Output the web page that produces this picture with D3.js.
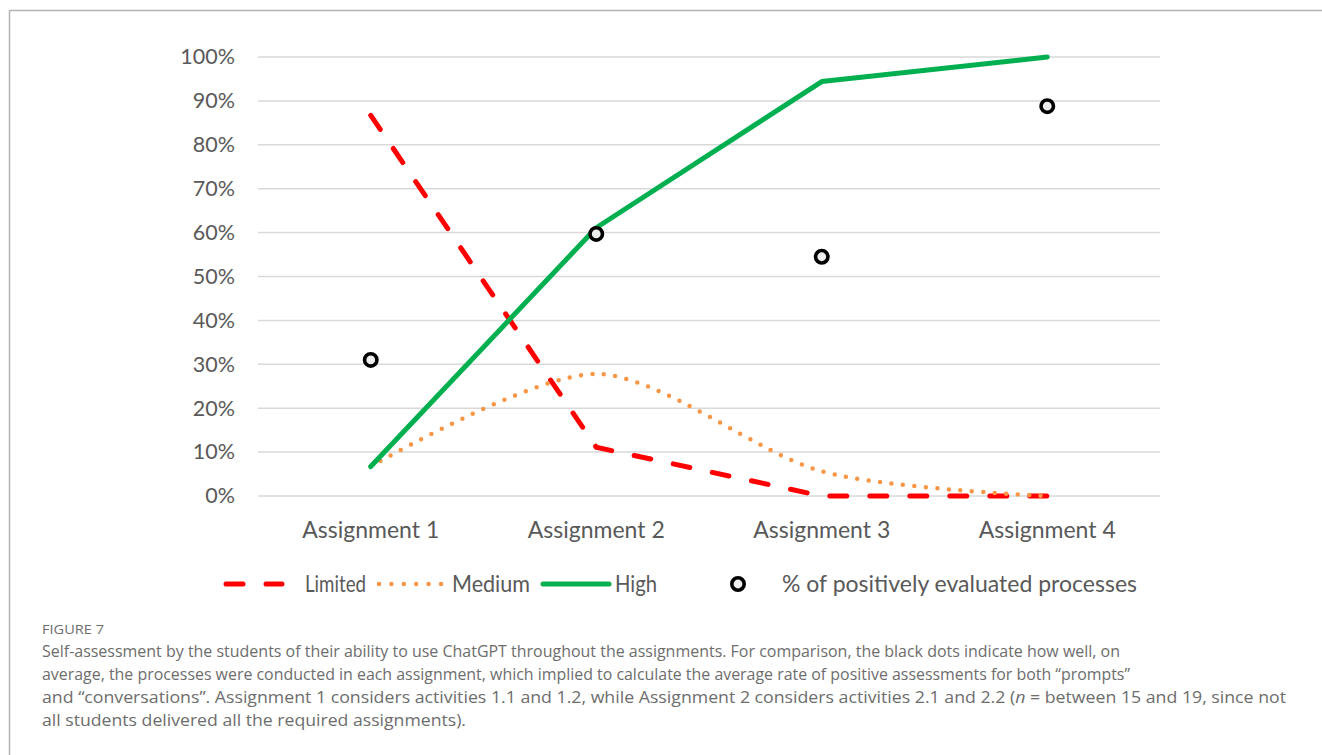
<!DOCTYPE html>
<html>
<head>
<meta charset="utf-8">
<script src="https://cdn.jsdelivr.net/npm/d3@7"></script>
<style>
  body { margin: 0; background: #fff; }
  svg { display: block; }
</style>
</head>
<body>
<div id="chart"></div>
<script>
/**
 * Chart data
 */
var categories = ["Assignment 1", "Assignment 2", "Assignment 3", "Assignment 4"];
var limited = [0.867, 0.111, 0, 0];
var medium = [0.067, 0.278, 0.056, 0];
var high = [0.067, 0.611, 0.944, 1.0];
var positive = [0.31, 0.597, 0.545, 0.888];
var yTicks = [0, 0.1, 0.2, 0.3, 0.4, 0.5, 0.6, 0.7, 0.8, 0.9, 1.0];
var legendLabels = ["Limited", "Medium", "High", "% of positively evaluated processes"];

var captionTitle = "FIGURE 7";
var captionLines = [
  "Self-assessment by the students of their ability to use ChatGPT throughout the assignments. For comparison, the black dots indicate how well, on",
  "average, the processes were conducted in each assignment, which implied to calculate the average rate of positive assessments for both \u201cprompts\u201d",
  "and \u201cconversations\u201d. Assignment 1 considers activities 1.1 and 1.2, while Assignment 2 considers activities 2.1 and 2.2 (",
  "all students delivered all the required assignments)."
];

var width = 1322;
var height = 755;
var font = "Lato, 'Open Sans', sans-serif";

var svg = d3.select("#chart").append("svg")
  .attr("width", width)
  .attr("height", height);

// outer frame (left + top only)
svg.append("path")
  .attr("d", "M9.5," + height + "V10.5H" + width)
  .attr("fill", "none")
  .attr("stroke", "#b3b3b3")
  .attr("stroke-width", 1.5);

var x = d3.scaleBand().domain(categories).range([258, 1160]);
var y = d3.scaleLinear().domain([0, 1]).range([496, 57]);
var cx = function(i) { return x(categories[i]) + x.bandwidth() / 2; };

// gridlines
svg.append("g")
  .selectAll("line")
  .data(yTicks)
  .enter().append("line")
  .attr("x1", 258).attr("x2", 1160)
  .attr("y1", d => y(d)).attr("y2", d => y(d))
  .attr("stroke", "#d9d9d9")
  .attr("stroke-width", 1.5);

// y axis labels
var yAxis = svg.append("g")
  .attr("transform", "translate(235,0)")
  .call(d3.axisLeft(y).tickValues(yTicks).tickFormat(d3.format(".0%")).tickSize(0).tickPadding(0));
yAxis.select(".domain").remove();
yAxis.selectAll("text")
  .attr("font-family", font)
  .attr("font-size", 21.5)
  .attr("fill", "#595959");

// x axis labels
var xAxis = svg.append("g")
  .attr("transform", "translate(0,538)")
  .call(d3.axisBottom(x).tickSize(0).tickPadding(0));
xAxis.select(".domain").remove();
xAxis.selectAll("text")
  .attr("y", 0)
  .attr("dy", 0)
  .attr("font-family", font)
  .attr("font-size", 23)
  .attr("fill", "#595959");

// lines
var straight = d3.line().x((d, i) => cx(i)).y(d => y(d));
var smooth = d3.line().x((d, i) => cx(i)).y(d => y(d)).curve(d3.curveCardinal.tension(0.15));

svg.append("path")
  .attr("d", straight(limited))
  .attr("fill", "none")
  .attr("stroke", "#ff0000")
  .attr("stroke-width", 5)
  .attr("stroke-linecap", "round")
  .attr("stroke-dasharray", "17 23");

svg.append("path")
  .attr("d", smooth(medium))
  .attr("fill", "none")
  .attr("stroke", "#f79646")
  .attr("stroke-width", 4.5)
  .attr("stroke-linecap", "round")
  .attr("stroke-dasharray", "0 11.5");

svg.append("path")
  .attr("d", straight(high))
  .attr("fill", "none")
  .attr("stroke", "#00b050")
  .attr("stroke-width", 5)
  .attr("stroke-linecap", "round")
  .attr("stroke-linejoin", "round");

svg.append("g")
  .selectAll("circle")
  .data(positive)
  .enter().append("circle")
  .attr("cx", (d, i) => cx(i))
  .attr("cy", d => y(d))
  .attr("r", 6.2)
  .attr("fill", "#eeeeee")
  .attr("stroke", "#000")
  .attr("stroke-width", 3.6);

// legend
var legY = 584;
var leg = svg.append("g");
leg.append("line")
  .attr("x1", 226).attr("x2", 282).attr("y1", legY).attr("y2", legY)
  .attr("stroke", "#ff0000").attr("stroke-width", 5)
  .attr("stroke-linecap", "round").attr("stroke-dasharray", "17 23");
leg.append("line")
  .attr("x1", 379).attr("x2", 441).attr("y1", legY).attr("y2", legY)
  .attr("stroke", "#f79646").attr("stroke-width", 4.5)
  .attr("stroke-linecap", "round").attr("stroke-dasharray", "0 12.4");
leg.append("line")
  .attr("x1", 543).attr("x2", 609).attr("y1", legY).attr("y2", legY)
  .attr("stroke", "#00b050").attr("stroke-width", 5)
  .attr("stroke-linecap", "round");
leg.append("circle")
  .attr("cx", 738).attr("cy", legY).attr("r", 6.2)
  .attr("fill", "#eeeeee").attr("stroke", "#000").attr("stroke-width", 3.6);

// label positions and widths as measured on the reference
var legX = [305, 452, 615, 782];
var legW = [61, 78, 42, 355];
leg.selectAll("text")
  .data(legendLabels)
  .enter().append("text")
  .attr("x", (d, i) => legX[i])
  .attr("y", legY)
  .attr("dy", "0.35em")
  .attr("font-family", font)
  .attr("font-size", 23)
  .attr("fill", "#595959")
  .attr("textLength", (d, i) => legW[i])
  .attr("lengthAdjust", "spacingAndGlyphs")
  .text(d => d);

// caption
var capFont = "'Open Sans', Lato, sans-serif";
svg.append("text")
  .attr("x", 42).attr("y", 634)
  .attr("font-family", capFont)
  .attr("font-size", 13)
  .attr("fill", "#6d6d6d")
  .attr("textLength", 62)
  .attr("lengthAdjust", "spacingAndGlyphs")
  .text(captionTitle);

var lineY = [657, 680, 703, 726];
var lineW = [1078, 1088, null, 424];
captionLines.forEach(function(s, i) {
  var t = svg.append("text")
    .attr("x", 42).attr("y", lineY[i])
    .attr("font-family", capFont)
    .attr("font-size", 16)
    .attr("fill", "#6d6d6d");
  t.append("tspan").text(s);
  if (i == 2) {
    t.append("tspan").attr("font-style", "italic").text("n");
    t.append("tspan").text(" = between 15 and 19, since not");
    t.attr("textLength", 1244).attr("lengthAdjust", "spacingAndGlyphs");
  } else {
    t.attr("textLength", lineW[i]).attr("lengthAdjust", "spacingAndGlyphs");
  }
});
</script>
</body>
</html>
